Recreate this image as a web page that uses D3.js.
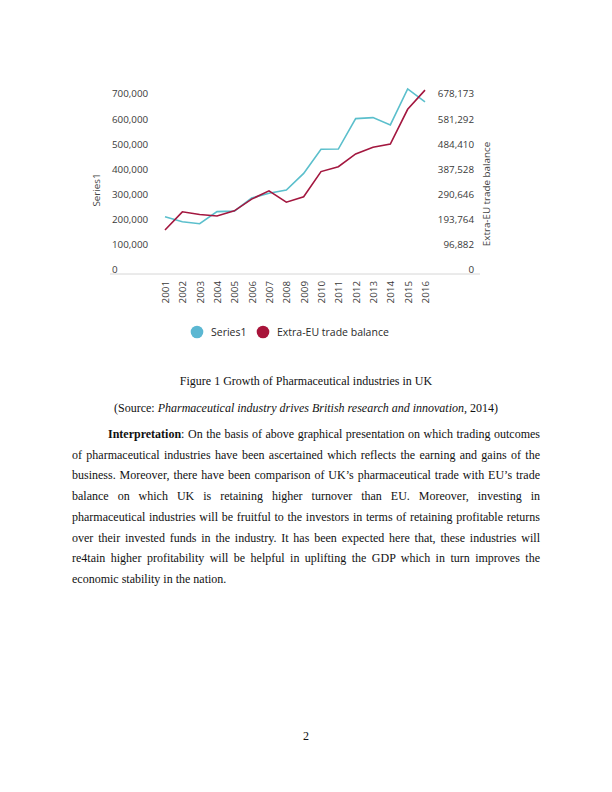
<!DOCTYPE html>
<html>
<head>
<meta charset="utf-8">
<script src="https://cdn.jsdelivr.net/npm/d3@7"></script>
<style>
  html, body { margin: 0; padding: 0; background: #fff; }
  #page { position: relative; width: 612px; height: 792px; overflow: hidden; }
  svg { position: absolute; left: 0; top: 0; }
  .txt { position: absolute; font-family: "Liberation Serif", "Times New Roman", serif; font-size: 12px; color: #111; }
  .jl { text-align: justify; text-align-last: justify; white-space: nowrap; }
</style>
</head>
<body>
<div id="page"></div>
<script>
const years = ['2001','2002','2003','2004','2005','2006','2007','2008','2009','2010','2011','2012','2013','2014','2015','2016']
const series1 = [216000,196000,188000,236000,238000,290000,309000,322000,388000,484000,485000,606000,610000,581000,724000,673000]
const extraEU = [158000,228000,218000,212000,232000,277000,309000,265000,286000,383000,402000,451000,477000,489000,623000,697000]
const leftTicks = [0,100000,200000,300000,400000,500000,600000,700000]
const rightTicks = [0,96882,193764,290646,387528,484410,581292,678173]
const legendItems = ['Series1', 'Extra-EU trade balance']
const colors = ['#5bbfcc', '#a3173f']
const legendColors = ['#5bb7d2', '#a8143a']

const paraLines = [
  '<b>Interpretation</b>: On the basis of above graphical presentation on which trading outcomes',
  'of pharmaceutical industries have been ascertained which reflects the earning and gains of the',
  'business. Moreover, there have been comparison of UK’s pharmaceutical trade with EU’s trade',
  'balance on which UK is retaining higher turnover than EU. Moreover, investing in',
  'pharmaceutical industries will be fruitful to the investors in terms of retaining profitable returns',
  'over their invested funds in the industry. It has been expected here that, these industries will',
  're4tain higher profitability will be helpful in uplifting the GDP which in turn improves the',
  'economic stability in the nation.'
]

const page = d3.select('#page')
let svg = page.append('svg').attr('width', 612).attr('height', 792)

let x = d3.scalePoint().domain(years).range([165, 425])
let yL = d3.scaleLinear().domain([0, 700000]).range([271, 95])
let yR = d3.scaleLinear().domain([0, 678173]).range([271, 95])

const font = '"Open Sans", "Noto Sans", sans-serif'

// baseline
svg.append('line')
  .attr('x1', 110).attr('x2', 480)
  .attr('y1', yL(0) + 3).attr('y2', yL(0) + 3)
  .attr('stroke', '#d6d6d6').attr('stroke-width', 1)

// left axis labels
let leftAxis = d3.axisLeft(yL).tickValues(leftTicks).tickSize(0).tickFormat(d3.format(','))
let gL = svg.append('g').attr('transform', 'translate(112,0)').call(leftAxis)
gL.select('.domain').remove()
gL.selectAll('text')
  .attr('text-anchor', 'start').attr('x', 0).attr('dy', '0.2em')
  .attr('font-family', font).attr('font-size', '9.8px').attr('fill', '#3a3a3a')

// right axis labels
let rightAxis = d3.axisRight(yR).tickValues(rightTicks).tickSize(0).tickFormat(d3.format(','))
let gR = svg.append('g').attr('transform', 'translate(474,0)').call(rightAxis)
gR.select('.domain').remove()
gR.selectAll('text')
  .attr('text-anchor', 'end').attr('x', 0).attr('dy', '0.2em')
  .attr('font-family', font).attr('font-size', '9.8px').attr('fill', '#3a3a3a')

// x axis labels
let xAxis = d3.axisBottom(x).tickSize(0)
let gX = svg.append('g').attr('transform', 'translate(0,281)').call(xAxis)
gX.select('.domain').remove()
gX.selectAll('text')
  .attr('transform', 'rotate(-90)')
  .attr('text-anchor', 'end')
  .attr('x', 0).attr('y', 0).attr('dy', '0.35em')
  .attr('font-family', font).attr('font-size', '9.8px').attr('fill', '#3a3a3a')

// axis titles
svg.append('text')
  .attr('transform', 'translate(100,190) rotate(-90)')
  .attr('text-anchor', 'middle')
  .attr('font-family', font).attr('font-size', '9.8px').attr('fill', '#444')
  .text('Series1')
svg.append('text')
  .attr('transform', 'translate(490,194) rotate(-90)')
  .attr('text-anchor', 'middle')
  .attr('font-family', font).attr('font-size', '9.8px').attr('fill', '#444')
  .text('Extra-EU trade balance')

// lines
let lineL = d3.line().x((d, i) => x(years[i])).y(d => yL(d))
let lineR = d3.line().x((d, i) => x(years[i])).y(d => yR(d))
svg.append('path').datum(series1).attr('d', lineL)
  .attr('fill', 'none').attr('stroke', colors[0]).attr('stroke-width', 1.6)
svg.append('path').datum(extraEU).attr('d', lineR)
  .attr('fill', 'none').attr('stroke', colors[1]).attr('stroke-width', 1.6)

// legend
let legX = [197, 263]
let leg = svg.append('g')
legendItems.forEach(function(name, i) {
  leg.append('circle').attr('cx', legX[i]).attr('cy', 332).attr('r', 6.3).attr('fill', legendColors[i])
  leg.append('text').attr('x', legX[i] + 14).attr('y', 332).attr('dy', '0.35em')
    .attr('font-family', font).attr('font-size', '10.5px').attr('fill', '#2a2a2a')
    .text(name)
})

// caption and body text
page.append('div').attr('class', 'txt')
  .style('left', '0px').style('width', '612px').style('top', '374px').style('text-align', 'center')
  .text('Figure 1 Growth of Pharmaceutical industries in UK')
page.append('div').attr('class', 'txt')
  .style('left', '0px').style('width', '612px').style('top', '401px').style('text-align', 'center')
  .html('(Source: <i>Pharmaceutical industry drives British research and innovation</i>, 2014)')

paraLines.forEach(function(l, i) {
  let last = i === paraLines.length - 1
  let indent = i === 0 ? 36 : 0
  page.append('div')
    .attr('class', last ? 'txt' : 'txt jl')
    .style('left', (72 + indent) + 'px')
    .style('width', (468 - indent) + 'px')
    .style('top', (427 + i * 20.7) + 'px')
    .html(l)
})

page.append('div').attr('class', 'txt')
  .style('left', '0px').style('width', '612px').style('top', '729px').style('text-align', 'center')
  .text('2')
</script>
</body>
</html>
